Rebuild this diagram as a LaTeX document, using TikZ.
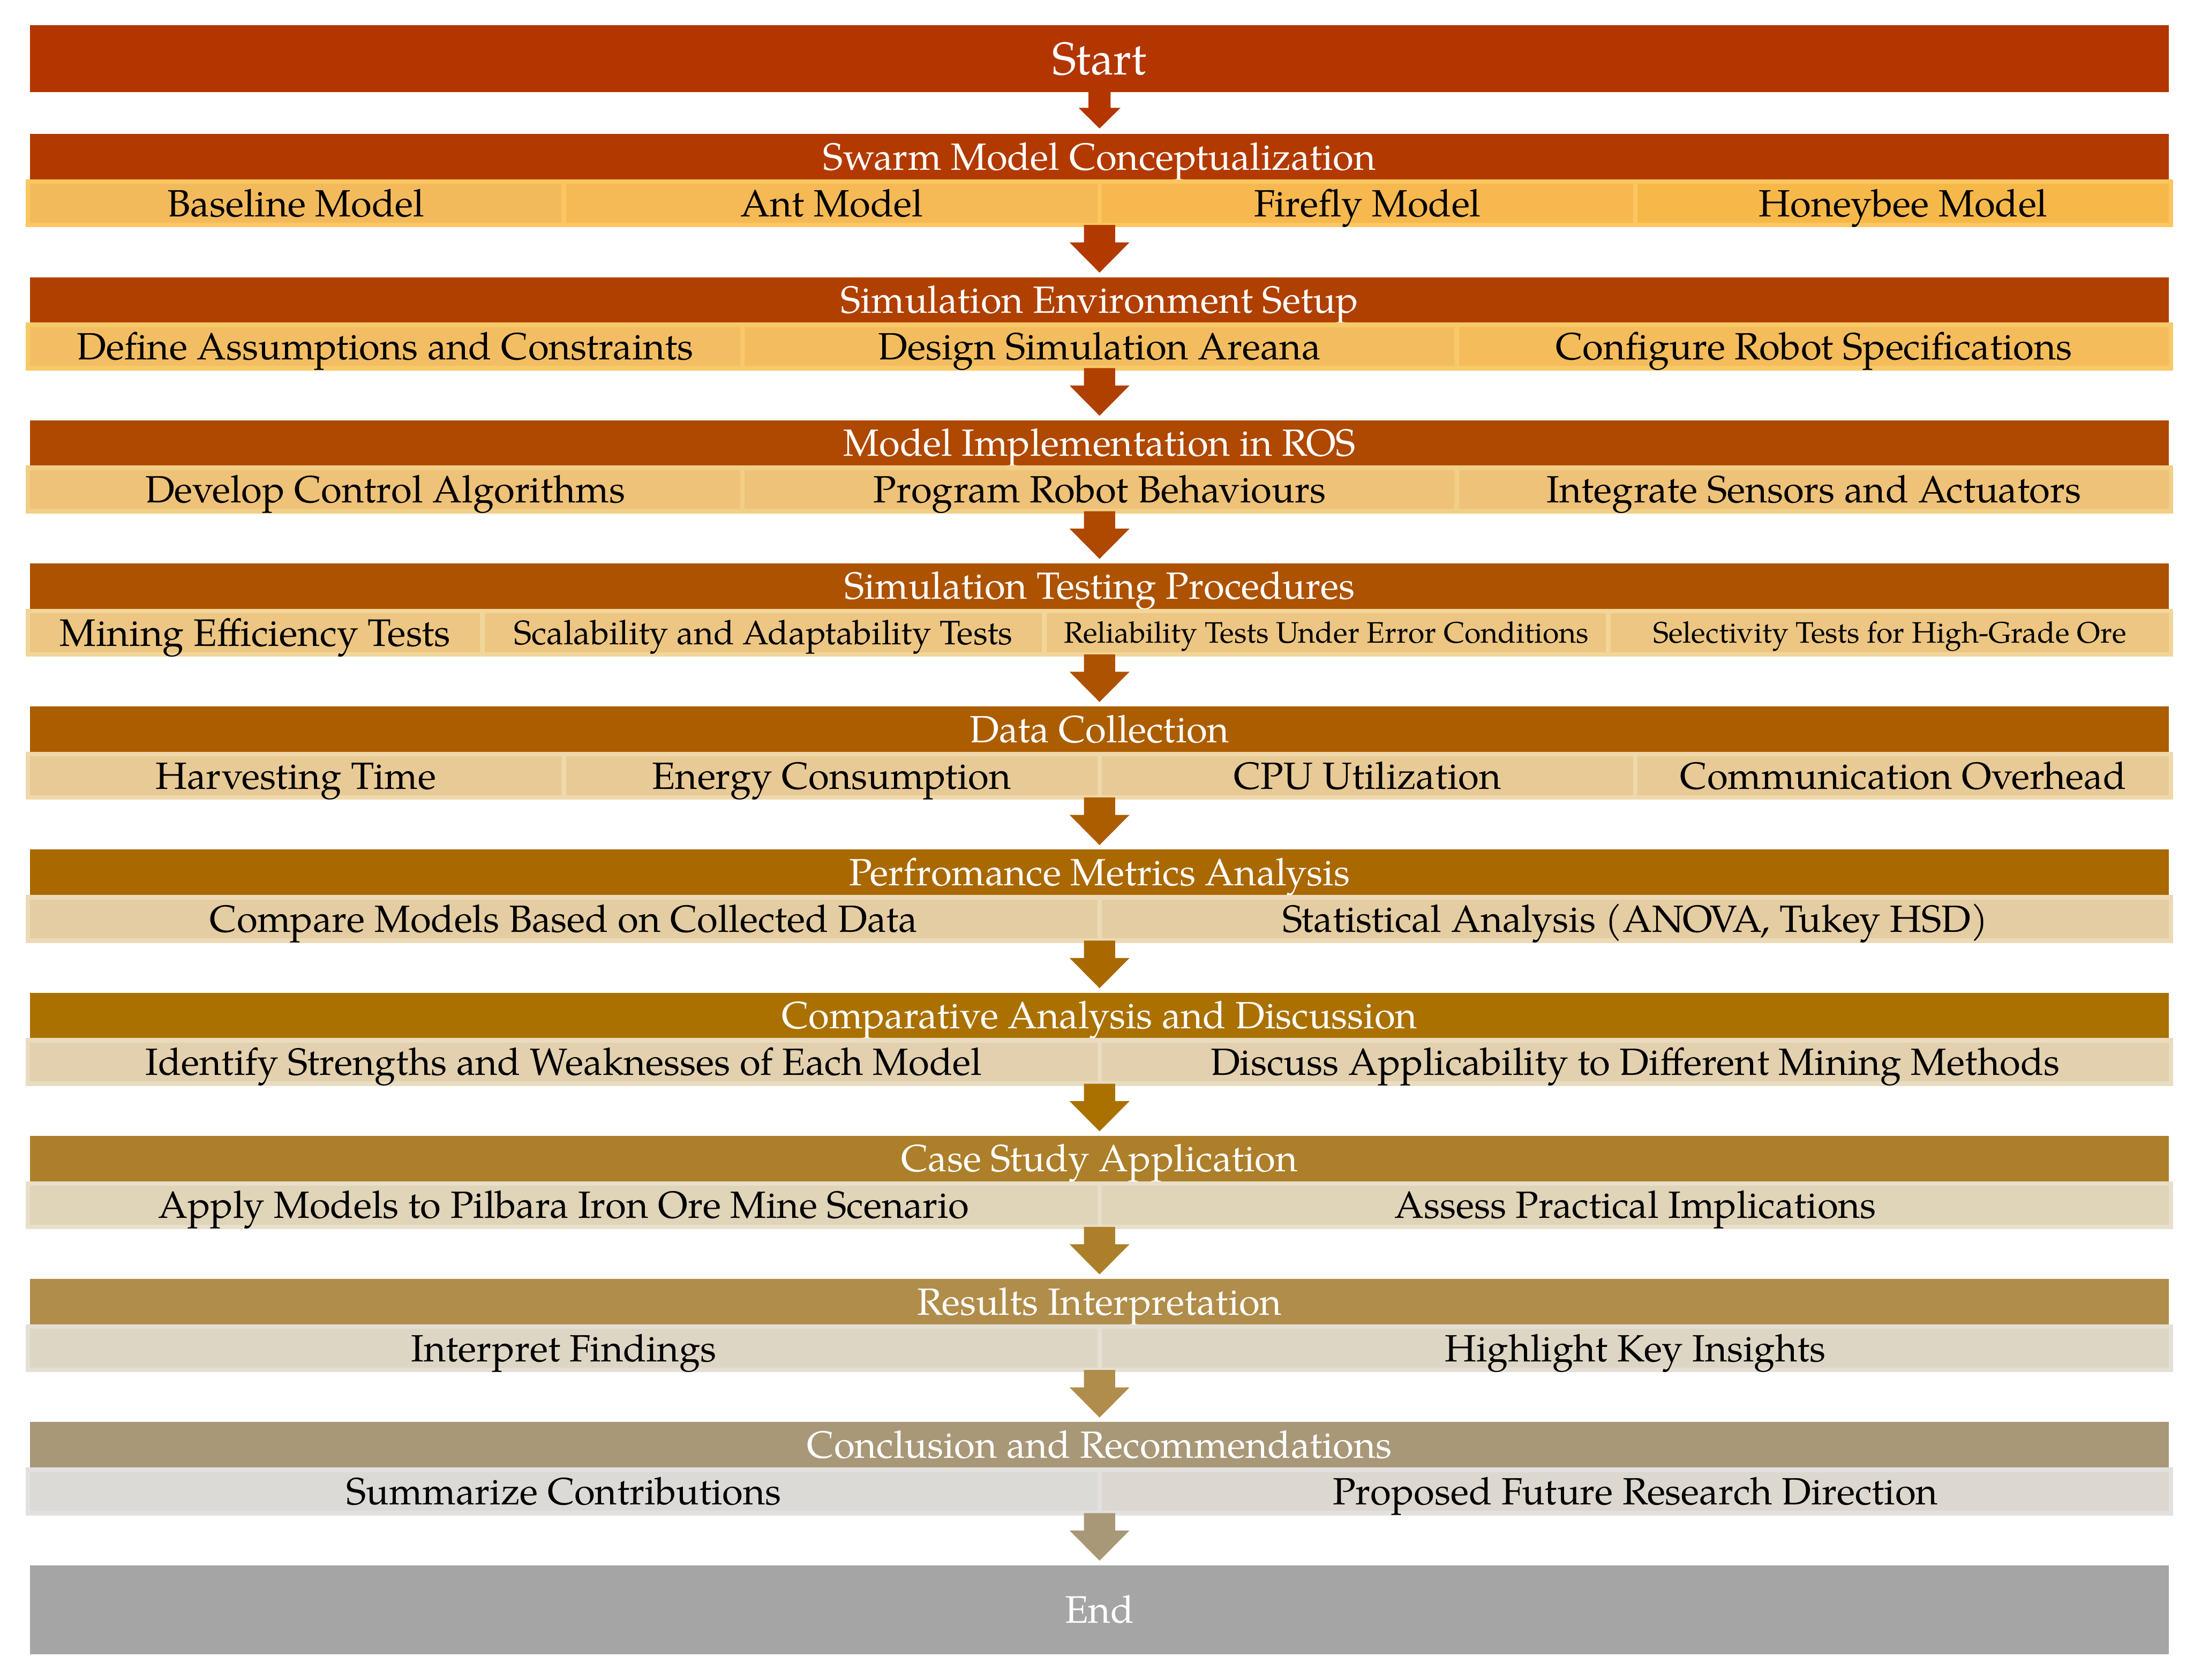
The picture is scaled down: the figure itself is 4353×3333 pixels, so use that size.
\documentclass[tikz,border=0pt]{standalone}
\usepackage{fontspec}
\IfFontExistsTF{TeX Gyre Pagella}{\setmainfont{TeX Gyre Pagella}}{\setmainfont{Liberation Serif}}
\usetikzlibrary{calc}
\definecolor{cS}{HTML}{B33500}
\definecolor{h1}{HTML}{B23A00}
\definecolor{h2}{HTML}{B04000}
\definecolor{h3}{HTML}{AF4800}
\definecolor{h4}{HTML}{AD5200}
\definecolor{h5}{HTML}{AC5D00}
\definecolor{h6}{HTML}{AA6800}
\definecolor{h7}{HTML}{AA7100}
\definecolor{h8}{HTML}{AD7F2A}
\definecolor{h9}{HTML}{B08D4A}
\definecolor{h10}{HTML}{A89877}
\definecolor{cE}{HTML}{A5A5A5}
\definecolor{f1a}{HTML}{F3BA5C}
\definecolor{f1b}{HTML}{F5B955}
\definecolor{f1c}{HTML}{F6B84F}
\definecolor{f1d}{HTML}{F7B84A}
\definecolor{b1}{HTML}{FCC660}
\definecolor{f2a}{HTML}{F3BE63}
\definecolor{f2b}{HTML}{F3BD5F}
\definecolor{f2c}{HTML}{F4BC5B}
\definecolor{b2}{HTML}{F8C968}
\definecolor{f3}{HTML}{EEC278}
\definecolor{b3}{HTML}{F2CF86}
\definecolor{f4}{HTML}{ECC682}
\definecolor{b4}{HTML}{F2D699}
\definecolor{f5}{HTML}{E8CA96}
\definecolor{b5}{HTML}{EFD8AA}
\definecolor{f6}{HTML}{E4CDA2}
\definecolor{b6}{HTML}{ECDAB6}
\definecolor{f7}{HTML}{E2D0AE}
\definecolor{b7}{HTML}{EADCC0}
\definecolor{f8}{HTML}{E0D4B9}
\definecolor{b8}{HTML}{E8DFCB}
\definecolor{f9}{HTML}{DED6C5}
\definecolor{b9}{HTML}{E5E0D6}
\definecolor{f10a}{HTML}{DBDAD6}
\definecolor{f10b}{HTML}{DDD8CF}
\definecolor{b10}{HTML}{E2E1DF}
\tikzset{
  hdr/.style={fill=#1, inner sep=0pt, outer sep=0pt, minimum width=1060.75pt,
    minimum height=22.5pt, text=white, font=\fontsize{18.8}{23}\selectfont,
    text height=13pt, text depth=0pt},
  cell/.style 2 args={fill=#1, draw=#2, line width=2.25pt, inner sep=0pt, outer sep=0pt,
    minimum height=21.5pt, text=black, font=\fontsize{18.8}{23}\selectfont,
    text height=13pt, text depth=0pt},
  wA/.style={minimum width=265.75pt},
  wB/.style={minimum width=354.33pt},
  wC/.style={minimum width=531.5pt},
}
% #1 colour, #2 start, #3 end, #4 half shaft, #5 half head, #6 head length, #7 gap
\newcommand\flowarr[7]{%
  \path (#2) coordinate (aS) (#3) coordinate (aE);
  \fill[#1] ($(aS)+(-#4,0)$) -- ($(aS)+(#4,0)$) -- ($(aE)+(#4,-#7-#6)$)
    -- ($(aE)+(#5,-#7-#6)$) -- ($(aE)+(0,-#7)$) -- ($(aE)+(-#5,-#7-#6)$)
    -- ($(aE)+(-#4,-#7-#6)$) -- cycle;
}
\begin{document}
\begin{tikzpicture}[x=0.25pt,y=-0.25pt]
\useasboundingbox (0,0) rectangle (4353,3333);

% Start
\node[hdr=cS, minimum height=33.25pt, font=\fontsize{22.75}{27}\selectfont, text height=15.7pt] (start) at (2181.5,116.5) {Start};

% Block 1
\node[hdr=h1] (h1) at (2181.5,311) {Swarm Model Conceptualization};
\node[cell={f1a}{b1}, wA] (c11) at (587,403.5) {Baseline Model};
\node[cell={f1b}{b1}, wA] (c12) at (1650,403.5) {Ant Model};
\node[cell={f1c}{b1}, wA] (c13) at (2713,403.5) {Firefly Model};
\node[cell={f1d}{b1}, wA] (c14) at (3776,403.5) {Honeybee Model};

% Block 2
\node[hdr=h2] (h2) at (2181.5,595) {Simulation Environment Setup};
\node[cell={f2a}{b2}, wB] (c21) at (764.17,687.5) {Define Assumptions and Constraints};
\node[cell={f2b}{b2}, wB] (c22) at (2181.5,687.5) {Design Simulation Areana};
\node[cell={f2c}{b2}, wB] (c23) at (3598.83,687.5) {Configure Robot Specifications};

% Block 3
\node[hdr=h3] (h3) at (2181.5,879) {Model Implementation in ROS};
\node[cell={f3}{b3}, wB] (c31) at (764.17,971.5) {Develop Control Algorithms};
\node[cell={f3}{b3}, wB] (c32) at (2181.5,971.5) {Program Robot Behaviours};
\node[cell={f3}{b3}, wB] (c33) at (3598.83,971.5) {Integrate Sensors and Actuators};

% Block 4
\node[hdr=h4] (h4) at (2181.5,1163) {Simulation Testing Procedures};
\node[cell={f4}{b4}, minimum width=225.375pt, font=\fontsize{19}{23}\selectfont, text height=13.1pt] (c41) at (506.25,1255.5) {Mining Efficiency Tests};
\node[cell={f4}{b4}, minimum width=278.75pt, font=\fontsize{16.8}{20}\selectfont, text height=11.6pt] (c42) at (1514.5,1255.5) {Scalability and Adaptability Tests};
\node[cell={f4}{b4}, minimum width=279.75pt, font=\fontsize{14.7}{17}\selectfont, text height=10.15pt] (c43) at (2631.5,1255.5) {Reliability Tests Under Error Conditions};
\node[cell={f4}{b4}, minimum width=279.125pt, font=\fontsize{14.7}{17}\selectfont, text height=10.15pt] (c44) at (3749.25,1255.5) {Selectivity Tests for High-Grade Ore};

% Block 5
\node[hdr=h5] (h5) at (2181.5,1447) {Data Collection};
\node[cell={f5}{b5}, wA] (c51) at (587,1539.5) {Harvesting Time};
\node[cell={f5}{b5}, wA] (c52) at (1650,1539.5) {Energy Consumption};
\node[cell={f5}{b5}, wA] (c53) at (2713,1539.5) {CPU Utilization};
\node[cell={f5}{b5}, wA] (c54) at (3776,1539.5) {Communication Overhead};

% Block 6
\node[hdr=h6] (h6) at (2181.5,1731) {Perfromance Metrics Analysis};
\node[cell={f6}{b6}, wC] (c61) at (1118.5,1823.5) {Compare Models Based on Collected Data};
\node[cell={f6}{b6}, wC] (c62) at (3244.5,1823.5) {Statistical Analysis (ANOVA, Tukey HSD)};

% Block 7
\node[hdr=h7] (h7) at (2181.5,2015) {Comparative Analysis and Discussion};
\node[cell={f7}{b7}, wC] (c71) at (1118.5,2107.5) {Identify Strengths and Weaknesses of Each Model};
\node[cell={f7}{b7}, wC] (c72) at (3244.5,2107.5) {Discuss Applicability to Different Mining Methods};

% Block 8
\node[hdr=h8] (h8) at (2181.5,2299) {Case Study Application};
\node[cell={f8}{b8}, wC] (c81) at (1118.5,2391.5) {Apply Models to Pilbara Iron Ore Mine Scenario};
\node[cell={f8}{b8}, wC] (c82) at (3244.5,2391.5) {Assess Practical Implications};

% Block 9
\node[hdr=h9] (h9) at (2181.5,2583) {Results Interpretation};
\node[cell={f9}{b9}, wC] (c91) at (1118.5,2675.5) {Interpret Findings};
\node[cell={f9}{b9}, wC] (c92) at (3244.5,2675.5) {Highlight Key Insights};

% Block 10
\node[hdr=h10] (h10) at (2181.5,2867) {Conclusion and Recommendations};
\node[cell={f10a}{b10}, wC] (c101) at (1118.5,2959.5) {Summarize Contributions};
\node[cell={f10b}{b10}, wC] (c102) at (3244.5,2959.5) {Proposed Future Research Direction};

% End
\node[hdr=cE, minimum height=44.25pt, font=\fontsize{19}{23}\selectfont, text height=13.1pt] (end) at (2181.5,3194.5) {End};

% Arrows
\flowarr{cS}{start.south}{h1.north}{22}{41.5}{41}{11}
\flowarr{h1}{h1.south |- c11.south}{h2.north}{31}{59.5}{60}{9}
\flowarr{h2}{h2.south |- c21.south}{h3.north}{31}{59.5}{60}{9}
\flowarr{h3}{h3.south |- c31.south}{h4.north}{31}{59.5}{60}{9}
\flowarr{h4}{h4.south |- c41.south}{h5.north}{31}{59.5}{60}{9}
\flowarr{h5}{h5.south |- c51.south}{h6.north}{31}{59.5}{60}{9}
\flowarr{h6}{h6.south |- c61.south}{h7.north}{31}{59.5}{60}{9}
\flowarr{h7}{h7.south |- c71.south}{h8.north}{31}{59.5}{60}{9}
\flowarr{h8}{h8.south |- c81.south}{h9.north}{31}{59.5}{60}{9}
\flowarr{h9}{h9.south |- c91.south}{h10.north}{31}{59.5}{60}{9}
\flowarr{h10}{h10.south |- c101.south}{end.north}{31}{59.5}{60}{9}
\end{tikzpicture}
\end{document}
